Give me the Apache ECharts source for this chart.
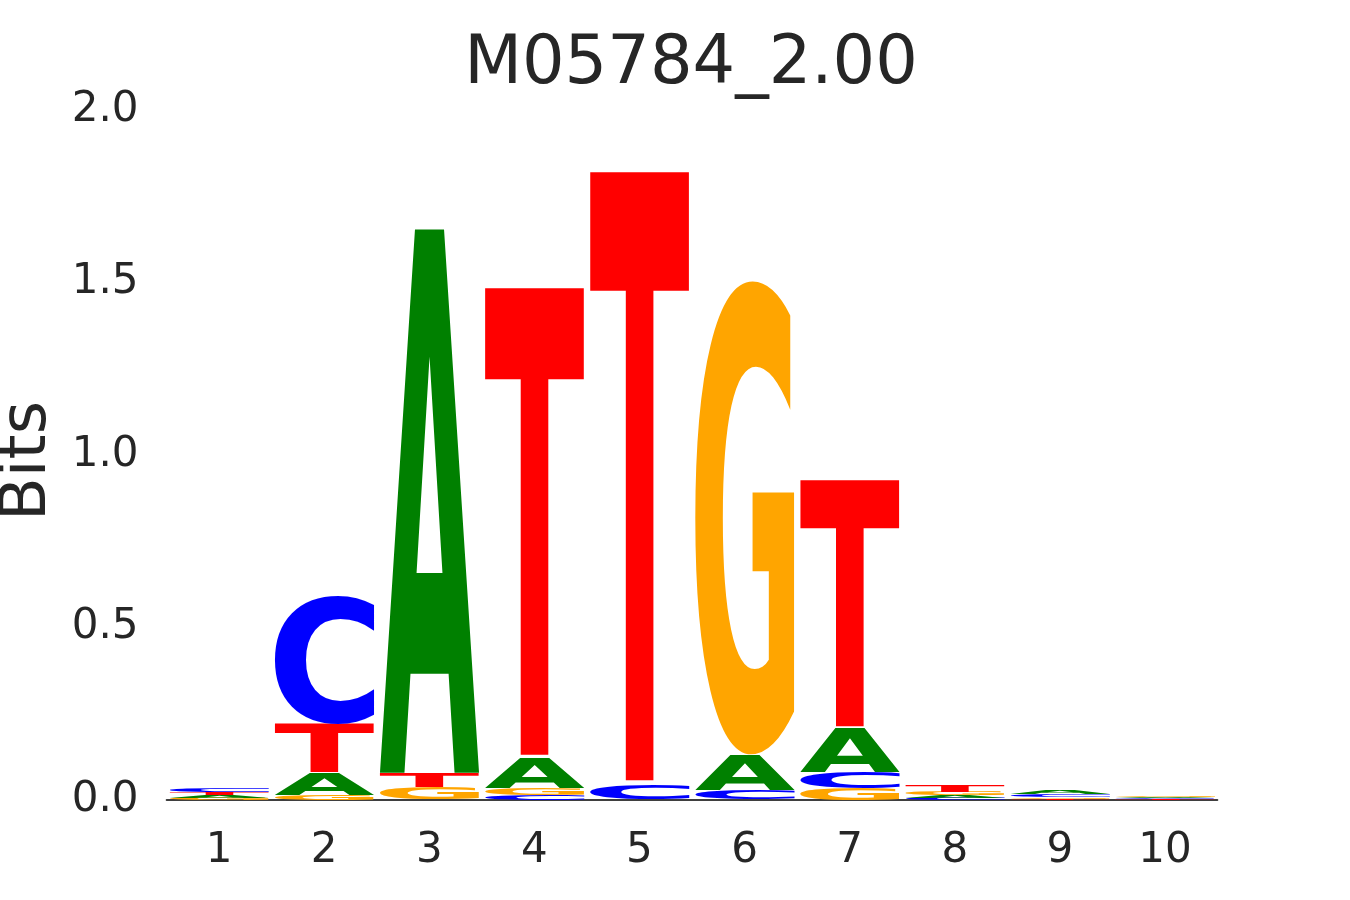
<!DOCTYPE html>
<html>
<head>
<meta charset="utf-8">
<script src="https://cdn.jsdelivr.net/npm/echarts@6/dist/echarts.min.js"></script>
<style>
html,body{margin:0;padding:0;background:#fff;}
#chart{width:1350px;height:900px;}
</style>
</head>
<body>
<div id="chart"></div>
<script>
// ---- data (information in bits per letter and position) ----
const positions = ['1', '2', '3', '4', '5', '6', '7', '8', '9', '10'];
const letters = ['A', 'C', 'G', 'T'];
const letterColors = ['#008000', '#0000ff', '#ffa500', '#ff0000'];
const bitsA = [0.0075, 0.064, 1.577, 0.087, 0.001, 0.101, 0.128, 0.008, 0.009, 0.0032];
const bitsC = [0.010, 0.374, 0.001, 0.015, 0.043, 0.029, 0.046, 0.006, 0.007, 0.003];
const bitsG = [0.007, 0.015, 0.035, 0.020, 0.001, 1.377, 0.035, 0.010, 0.005, 0.0035];
const bitsT = [0.0085, 0.139, 0.043, 1.363, 1.777, 0.001, 0.719, 0.017, 0.004, 0.0025];
const yTicks = [0, 0.5, 1.0, 1.5, 2.0];
const titleText = 'M05784_2.00';
const yName = 'Bits';

// ---- build stacked letter boxes (smallest at the bottom) ----
const allBits = [bitsA, bitsC, bitsG, bitsT];
const stackData = [];
positions.forEach(function (p, i) {
  const order = [0, 1, 2, 3].sort(function (a, b) { return allBits[a][i] - allBits[b][i]; });
  let acc = 0;
  order.forEach(function (li) {
    const v = allBits[li][i];
    stackData.push([i, acc, acc + v, li]);
    acc += v;
  });
});

// ---- glyph ink metrics ----
const GLYPH_FONT = 'bold 200px "DejaVu Sans"';
const mctx = document.createElement('canvas').getContext('2d');
mctx.font = GLYPH_FONT;
mctx.textBaseline = 'middle';
mctx.textAlign = 'left';
const glyph = letters.map(function (L) {
  const m = mctx.measureText(L);
  return {
    l: m.actualBoundingBoxLeft,
    w: m.actualBoundingBoxLeft + m.actualBoundingBoxRight,
    a: m.actualBoundingBoxAscent,
    h: m.actualBoundingBoxAscent + m.actualBoundingBoxDescent
  };
});

const textColor = '#262626';
const chart = echarts.init(document.getElementById('chart'), null, { renderer: 'canvas' });
chart.setOption({
  backgroundColor: '#ffffff',
  animation: false,
  title: {
    text: titleText,
    left: 686,
    top: 27,
    textAlign: 'center',
    textStyle: { fontFamily: 'DejaVu Sans', fontSize: 67, fontWeight: 'normal', color: textColor }
  },
  grid: { left: 166.5, right: 132.5, top: 110, bottom: 100, containLabel: false, outerBoundsMode: 'none' },
  xAxis: {
    type: 'category',
    data: positions,
    boundaryGap: true,
    axisLine: { show: true, lineStyle: { color: '#000000', width: 1.6 } },
    axisTick: { show: false },
    splitLine: { show: false },
    axisLabel: { margin: 30, fontFamily: 'DejaVu Sans', fontSize: 42, color: textColor }
  },
  yAxis: {
    type: 'value',
    min: yTicks[0],
    max: yTicks[yTicks.length - 1],
    interval: 0.5,
    name: yName,
    nameLocation: 'middle',
    nameGap: 134,
    nameRotate: 90,
    nameTextStyle: {
      fontFamily: 'DejaVu Sans', fontSize: 64, color: textColor,
      align: 'center', verticalAlign: 'middle', padding: [0, 12, 0, 0]
    },
    axisLine: { show: false },
    axisTick: { show: false },
    splitLine: { show: false },
    axisLabel: {
      margin: 28,
      fontFamily: 'DejaVu Sans', fontSize: 42, color: textColor,
      padding: [7, 0, 0, 0],
      formatter: function (v) { return v.toFixed(1); }
    }
  },
  series: [{
    type: 'custom',
    encode: { x: 0, y: 2 },
    data: stackData,
    silent: true,
    renderItem: function (params, api) {
      const i = api.value(0), y0 = api.value(1), y1 = api.value(2), li = api.value(3);
      const topPt = api.coord([i, y1]);
      const botPt = api.coord([i, y0]);
      const bw = api.size([1, 0])[0] * 0.95;
      const left = topPt[0] - bw / 2;
      const top = topPt[1];
      const h = botPt[1] - top;
      if (!(h > 0)) return null;
      const g = glyph[li];
      const sx = bw / g.w, sy = h / g.h;
      return {
        type: 'text',
        x: left + sx * g.l,
        y: top + sy * g.a,
        scaleX: sx,
        scaleY: sy,
        style: {
          text: letters[li],
          font: GLYPH_FONT,
          fill: letterColors[li],
          align: 'left',
          verticalAlign: 'middle'
        }
      };
    }
  }]
});
</script>
</body>
</html>
